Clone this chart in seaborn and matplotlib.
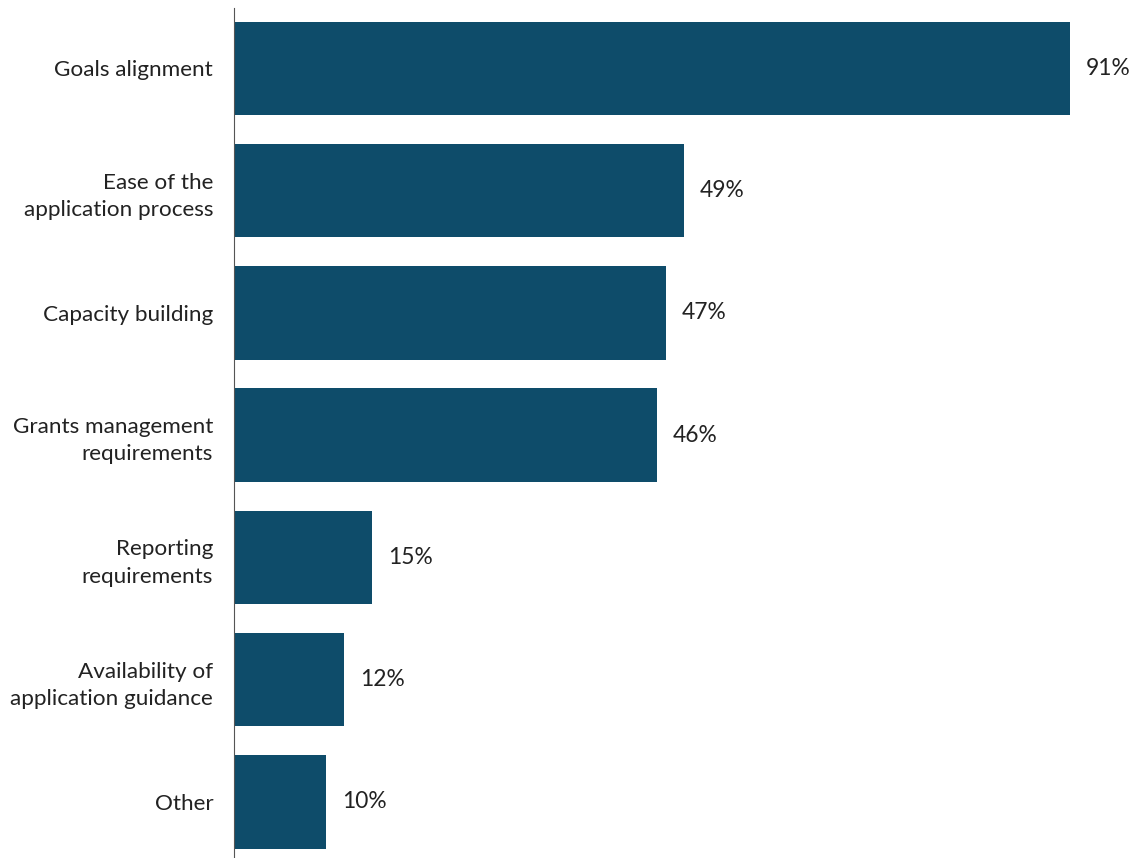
import matplotlib
matplotlib.use("Agg")
import matplotlib.pyplot as plt
import seaborn as sns
import pandas as pd

categories = [
    "Goals alignment",
    "Ease of the\napplication process",
    "Capacity building",
    "Grants management\nrequirements",
    "Reporting\nrequirements",
    "Availability of\napplication guidance",
    "Other",
]
values = [91, 49, 47, 46, 15, 12, 10]
value_labels = ["91%", "49%", "47%", "46%", "15%", "12%", "10%"]

bar_color = "#0e4c6a"
text_color = "#222222"

sns.set_theme(style="white")
plt.rcParams["font.family"] = ["Lato", "DejaVu Sans"]

df = pd.DataFrame({"category": categories, "value": values})

fig = plt.figure(figsize=(11.37, 8.58), dpi=100)
ax = fig.add_axes([234 / 1137, 0.0, 1 - 234 / 1137, 850 / 858])

sns.barplot(data=df, x="value", y="category", orient="h", color=bar_color,
            saturation=1, width=0.765, linewidth=0, ax=ax)

for i, (v, lab) in enumerate(zip(values, value_labels)):
    ax.annotate(lab, xy=(v, i), xytext=(11.5, 0), textcoords="offset points",
                ha="left", va="center", fontsize=16.4, color=text_color)

ax.set_xlim(0, 98.3)
ax.set_ylim(6.46, -0.495)
ax.set_xlabel("")
ax.set_ylabel("")
ax.set_xticks([])
ax.tick_params(axis="y", length=0, pad=15, labelsize=16.2, labelcolor=text_color)
for lab in ax.get_yticklabels():
    lab.set_horizontalalignment("right")
    lab.set_multialignment("right")
    lab.set_linespacing(1.45)

for side in ["top", "right", "bottom"]:
    ax.spines[side].set_visible(False)
ax.spines["left"].set_color("#555555")
ax.spines["left"].set_linewidth(0.8)

fig.savefig("out.png", dpi=100)
